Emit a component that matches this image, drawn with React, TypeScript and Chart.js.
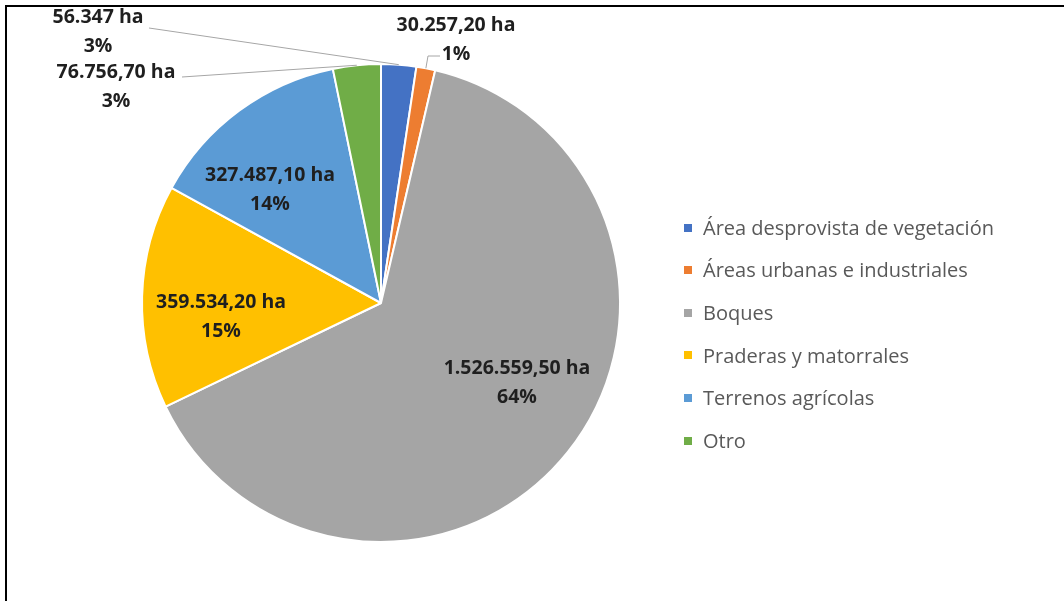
import React, { useEffect, useRef } from "react";
import { Chart, registerables } from "chart.js";

Chart.register(...registerables);

// ---- Data ----
const categories = [
  "Área desprovista de vegetación",
  "Áreas urbanas e industriales",
  "Boques",
  "Praderas y matorrales",
  "Terrenos agrícolas",
  "Otro",
];
const areaHa = [56347, 30257.2, 1526559.5, 359534.2, 327487.1, 76756.7];
const areaLabels = [
  "56.347 ha",
  "30.257,20 ha",
  "1.526.559,50 ha",
  "359.534,20 ha",
  "327.487,10 ha",
  "76.756,70 ha",
];
const pctLabels = ["3%", "1%", "64%", "15%", "14%", "3%"];
const sliceColors = ["#4472C4", "#ED7D31", "#A5A5A5", "#FFC000", "#5B9BD5", "#70AD47"];

// ---- Layout of data labels (positions only, no data) ----
type LabelLayout = { x: number; y: number; leader?: number[][] };
const labelLayout: LabelLayout[] = [
  { x: 98, y: 17, leader: [[149, 28]] },
  { x: 456, y: 25, leader: [[440, 56], [428, 56]] },
  { x: 517, y: 368 },
  { x: 221, y: 302 },
  { x: 270, y: 175 },
  { x: 116, y: 72, leader: [[182, 77]] },
];
const LINE_GAP = 29;
const LABEL_FONT = "bold 19.5px 'Open Sans'";
const LEGEND_FONT = "20px 'Open Sans'";

const labelsPlugin = {
  id: "sliceLabels",
  afterDatasetsDraw(chart: any) {
    const ctx = chart.ctx;
    const meta = chart.getDatasetMeta(0);
    ctx.save();
    meta.data.forEach((arc: any, i: number) => {
      const lay = labelLayout[i];
      const p = arc.getProps(["x", "y", "startAngle", "endAngle", "outerRadius"], true);
      if (lay.leader) {
        const mid = (p.startAngle + p.endAngle) / 2;
        const ex = p.x + Math.cos(mid) * p.outerRadius;
        const ey = p.y + Math.sin(mid) * p.outerRadius;
        ctx.beginPath();
        ctx.strokeStyle = "#A6A6A6";
        ctx.lineWidth = 1;
        ctx.moveTo(lay.leader[0][0], lay.leader[0][1]);
        for (let k = 1; k < lay.leader.length; k++) ctx.lineTo(lay.leader[k][0], lay.leader[k][1]);
        ctx.lineTo(ex, ey);
        ctx.stroke();
      }
      ctx.fillStyle = "#1F1F1F";
      ctx.font = LABEL_FONT;
      ctx.textAlign = "center";
      ctx.textBaseline = "middle";
      ctx.fillText(areaLabels[i], lay.x, lay.y);
      ctx.fillText(pctLabels[i], lay.x, lay.y + LINE_GAP);
    });
    ctx.restore();
  },
  afterDraw(chart: any) {
    const ctx = chart.ctx;
    const labels = chart.data.labels as string[];
    const colors = chart.data.datasets[0].backgroundColor as string[];
    ctx.save();
    ctx.font = LEGEND_FONT;
    ctx.textAlign = "left";
    ctx.textBaseline = "middle";
    labels.forEach((lab, i) => {
      const y = 227.5 + i * 42.6;
      ctx.fillStyle = colors[i];
      ctx.fillRect(684, Math.round(y - 4), 8, 8);
      ctx.fillStyle = "#595959";
      ctx.fillText(lab, 703, y + 1.5);
    });
    ctx.restore();
  },
};

export default function App() {
  const canvasRef = useRef<HTMLCanvasElement | null>(null);

  useEffect(() => {
    if (!canvasRef.current) return;
    const chart = new Chart(canvasRef.current, {
      type: "pie",
      data: {
        labels: categories,
        datasets: [
          {
            data: areaHa,
            backgroundColor: sliceColors,
            borderColor: "#FFFFFF",
            borderWidth: 2,
          },
        ],
      },
      options: {
        responsive: false,
        animation: false,
        layout: { padding: { left: 141, right: 443, top: 63, bottom: 58 } },
        plugins: {
          legend: { display: false },
          tooltip: { enabled: false },
        },
      },
      plugins: [labelsPlugin],
    });
    return () => chart.destroy();
  }, []);

  return (
    <div
      style={{
        position: "fixed",
        left: 0,
        top: 0,
        width: 1064,
        height: 601,
        background: "#FFFFFF",
        overflow: "hidden",
      }}
    >
      <canvas
        ref={canvasRef}
        width={1064}
        height={601}
        style={{ position: "absolute", left: 0, top: 0, width: 1064, height: 601 }}
      />
      <div
        style={{
          position: "absolute",
          left: 5,
          top: 5,
          right: 0,
          bottom: 0,
          borderLeft: "2px solid #000",
          borderTop: "2px solid #000",
          pointerEvents: "none",
        }}
      />
    </div>
  );
}
